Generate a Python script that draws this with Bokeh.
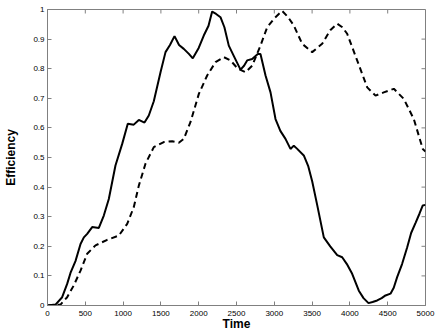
import math
from bokeh.plotting import figure
from bokeh.models import Range1d, FixedTicker
from bokeh.embed import file_html
from bokeh.resources import INLINE

# Time values and efficiencies
t_solid = [0, 106, 194, 260, 304, 370, 437, 481, 525, 591, 679, 745, 811, 899, 988,
           1062, 1141, 1208, 1283, 1340, 1406, 1495, 1561, 1620, 1680, 1740, 1803,
           1870, 1922, 2000, 2067, 2130, 2178, 2230, 2288, 2340, 2398, 2470, 2553,
           2600, 2641, 2707, 2782, 2817, 2884, 2950, 3016, 3080, 3148, 3214, 3258,
           3300, 3390, 3450, 3501, 3567, 3655, 3740, 3832, 3898, 3960, 4030, 4118,
           4180, 4246, 4300, 4361, 4420, 4471, 4537, 4580, 4625, 4690, 4758, 4810,
           4870, 4920, 4964, 5000]
eff_solid = [0.0, 0.003, 0.028, 0.073, 0.11, 0.15, 0.208, 0.23, 0.242, 0.265, 0.262,
             0.304, 0.36, 0.473, 0.546, 0.614, 0.611, 0.627, 0.618, 0.642, 0.69,
             0.788, 0.856, 0.88, 0.91, 0.88, 0.867, 0.85, 0.835, 0.87, 0.912, 0.945,
             0.993, 0.985, 0.974, 0.94, 0.878, 0.84, 0.797, 0.81, 0.828, 0.833, 0.85,
             0.85, 0.777, 0.72, 0.63, 0.59, 0.563, 0.529, 0.54, 0.53, 0.507, 0.47,
             0.42, 0.34, 0.23, 0.2, 0.17, 0.163, 0.14, 0.107, 0.05, 0.025, 0.008,
             0.012, 0.017, 0.025, 0.034, 0.04, 0.06, 0.096, 0.14, 0.197, 0.245,
             0.28, 0.31, 0.338, 0.34]

t_dash = [0, 172, 260, 348, 437, 525, 635, 790, 943, 1054, 1141, 1208, 1296, 1406,
          1538, 1649, 1737, 1803, 1892, 2002, 2112, 2222, 2332, 2421, 2517, 2619,
          2707, 2817, 2906, 3000, 3060, 3104, 3180, 3258, 3369, 3501, 3633, 3740,
          3832, 3900, 3964, 4096, 4229, 4339, 4448, 4581, 4713, 4845, 4964, 5000]
eff_dash = [0.0, 0.003, 0.028, 0.068, 0.118, 0.175, 0.203, 0.222, 0.236, 0.276,
            0.332, 0.405, 0.479, 0.535, 0.552, 0.555, 0.55, 0.563, 0.62, 0.715,
            0.777, 0.822, 0.839, 0.828, 0.8, 0.788, 0.81, 0.878, 0.94, 0.97, 0.985,
            0.995, 0.975, 0.946, 0.884, 0.856, 0.884, 0.93, 0.952, 0.94, 0.918,
            0.828, 0.737, 0.709, 0.72, 0.732, 0.698, 0.63, 0.529, 0.52]

x_ticks = [0, 500, 1000, 1500, 2000, 2500, 3000, 3500, 4000, 4500, 5000]
y_ticks = [0, 0.1, 0.2, 0.3, 0.4, 0.5, 0.6, 0.7, 0.8, 0.9, 1]
y_labels = {0: "0", 0.1: "0.1", 0.2: "0.2", 0.3: "0.3", 0.4: "0.4", 0.5: "0.5",
            0.6: "0.6", 0.7: "0.7", 0.8: "0.8", 0.9: "0.9", 1: "1"}
x_title = "Time"
y_title = "Efficiency"

FONT = "Liberation Sans"
AX = "#808080"
X0, X1, Y0, Y1 = 0, 5000, 0, 1

p = figure(frame_width=378, frame_height=296, output_backend="svg", toolbar_location=None,
           x_range=Range1d(X0, X1), y_range=Range1d(Y0, Y1),
           min_border_left=47, min_border_right=11, min_border_top=9, min_border_bottom=26)
p.xgrid.visible = False
p.ygrid.visible = False
p.outline_line_color = AX
p.outline_line_width = 1

for ax in (p.xaxis[0], p.yaxis[0]):
    ax.axis_line_color = AX
    ax.major_tick_line_color = AX
    ax.major_tick_in = 4
    ax.major_tick_out = 0
    ax.minor_tick_line_color = None
    ax.major_label_text_font = FONT
    ax.major_label_text_font_size = "8px"
    ax.major_label_text_color = "black"
    ax.axis_label_text_font = FONT
    ax.axis_label_text_font_size = "12px"
    ax.axis_label_text_font_style = "bold"
    ax.axis_label_text_color = "black"

p.xaxis[0].ticker = FixedTicker(ticks=x_ticks)
p.yaxis[0].ticker = FixedTicker(ticks=y_ticks)
p.yaxis[0].major_label_overrides = y_labels
p.xaxis[0].axis_label = x_title
p.yaxis[0].axis_label = y_title
p.xaxis[0].major_label_standoff = 5
p.xaxis[0].axis_label_standoff = -2
p.yaxis[0].major_label_standoff = 3
p.yaxis[0].axis_label_standoff = 12

# inward ticks on the top and right edges of the box (MATLAB style)
p.ray(x=x_ticks, y=[Y1] * len(x_ticks), length=4, length_units="screen",
      angle=-math.pi / 2, line_color=AX, line_width=1)
p.ray(x=[X1] * len(y_ticks), y=y_ticks, length=4, length_units="screen",
      angle=math.pi, line_color=AX, line_width=1)

p.line(t_dash, eff_dash, line_color="black", line_width=2, line_dash="6 4")
p.line(t_solid, eff_solid, line_color="black", line_width=2)

open("out.html", "w").write(file_html(p, INLINE))
